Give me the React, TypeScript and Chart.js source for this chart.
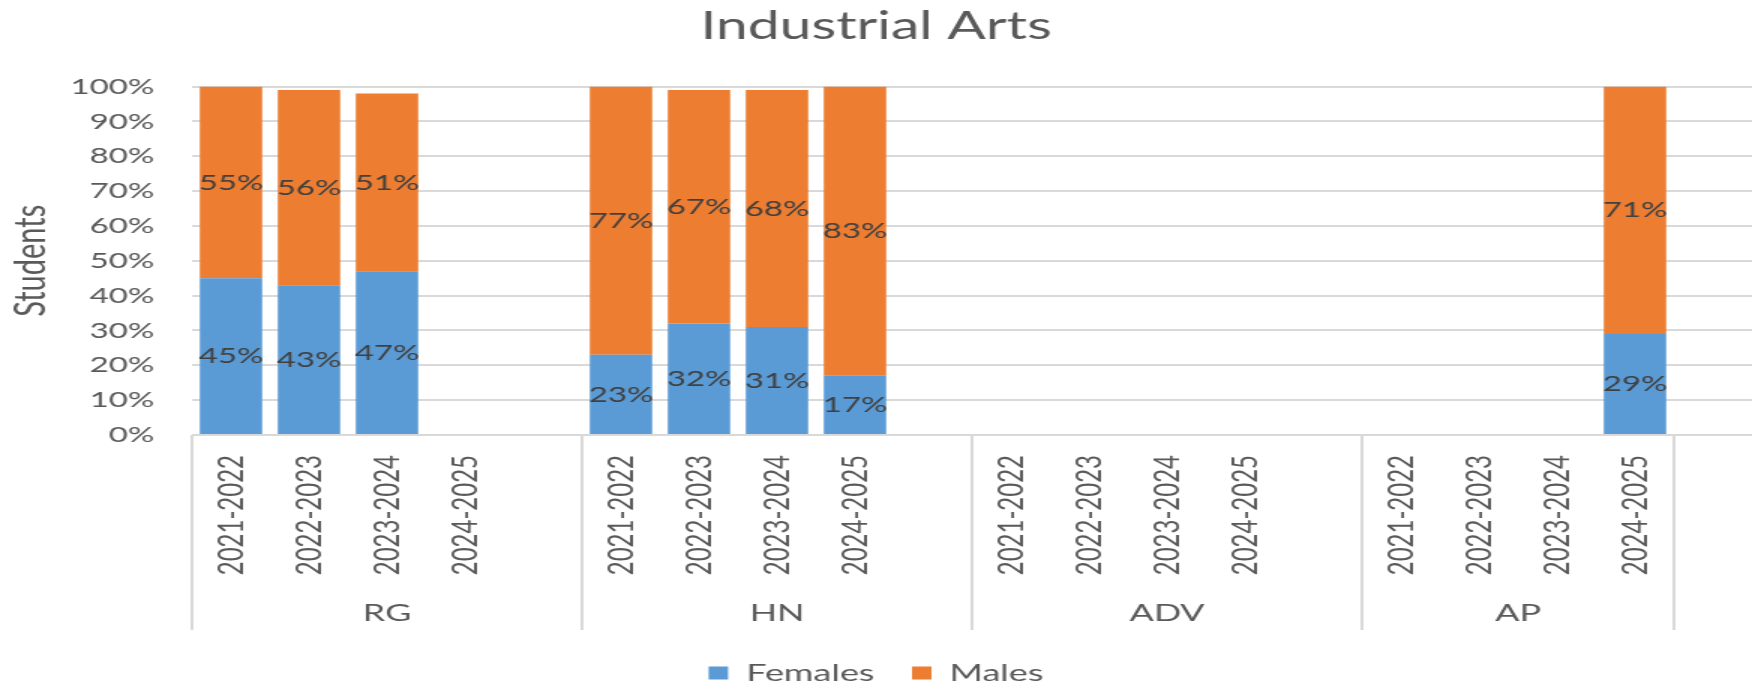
import React, { useEffect, useRef } from "react";
import { Chart, registerables } from "chart.js";

Chart.register(...registerables);

// School years shown inside each programme group
const years = ["2021-2022", "2022-2023", "2023-2024", "2024-2025"];

// Programme groups along the bottom axis and how many category slots each spans
const groupNames = ["RG", "HN", "ADV", "AP"];
const groupSpans = [5, 5, 5, 4];

// Share of students (percent) per programme and year
const rgFemales = [45, 43, 47, null];
const rgMales = [55, 56, 51, null];
const hnFemales = [23, 32, 31, 17];
const hnMales = [77, 67, 68, 83];
const advFemales = [null, null, null, null];
const advMales = [null, null, null, null];
const apFemales = [null, null, null, 29];
const apMales = [null, null, null, 71];

const yTicks = [0, 10, 20, 30, 40, 50, 60, 70, 80, 90, 100];

// Each group is followed by an empty spacer slot
const categories = [...years, "", ...years, "", ...years, "", ...years, ""];
const females = [...rgFemales, null, ...hnFemales, null, ...advFemales, null, ...apFemales, null];
const males = [...rgMales, null, ...hnMales, null, ...advMales, null, ...apMales, null];

const TEXT = "#595959";
const GRID = "#d9d9d9";

// Group dividers and group names under the year labels
const groupAxis = {
  id: "groupAxis",
  afterDraw(chart: any) {
    const { ctx, chartArea, scales } = chart;
    const x = scales.x;
    const step = x.getPixelForValue(1) - x.getPixelForValue(0);
    const edge = (i: number) => x.getPixelForValue(i) - step / 2;
    const bounds = [0];
    groupSpans.forEach((s) => bounds.push(bounds[bounds.length - 1] + s));
    ctx.save();
    ctx.strokeStyle = GRID;
    ctx.lineWidth = 2;
    bounds.forEach((b) => {
      const px = edge(b);
      ctx.beginPath();
      ctx.moveTo(px, chartArea.bottom);
      ctx.lineTo(px, chartArea.bottom + 195);
      ctx.stroke();
    });
    ctx.fillStyle = TEXT;
    ctx.font = "24px Lato";
    ctx.textAlign = "center";
    ctx.textBaseline = "middle";
    groupNames.forEach((name, i) => {
      const cx = (edge(bounds[i]) + edge(bounds[i + 1])) / 2;
      ctx.fillText(name, cx, chartArea.bottom + 178);
    });
    ctx.restore();
  },
};

// Percentage label in the middle of every stacked segment
const segmentLabels = {
  id: "segmentLabels",
  afterDatasetsDraw(chart: any) {
    const { ctx } = chart;
    ctx.save();
    ctx.fillStyle = "#404040";
    ctx.font = "22px Lato";
    ctx.textAlign = "center";
    ctx.textBaseline = "middle";
    chart.data.datasets.forEach((ds: any, di: number) => {
      const meta = chart.getDatasetMeta(di);
      meta.data.forEach((bar: any, i: number) => {
        const v = ds.data[i];
        if (v == null) return;
        const { x, y, base } = bar.getProps(["x", "y", "base"], true);
        ctx.fillText(`${v}%`, x, (y + base) / 2);
      });
    });
    ctx.restore();
  },
};

export default function App() {
  const canvasRef = useRef<HTMLCanvasElement>(null);

  useEffect(() => {
    if (!canvasRef.current) return;
    Chart.defaults.font.family = "Lato";
    const chart = new Chart(canvasRef.current, {
      type: "bar",
      data: {
        labels: categories,
        datasets: [
          { label: "Females", data: females, backgroundColor: "#5b9bd5", borderWidth: 0 },
          { label: "Males", data: males, backgroundColor: "#ed7d31", borderWidth: 0 },
        ],
      },
      options: {
        responsive: true,
        maintainAspectRatio: false,
        animation: false,
        layout: { padding: { left: 0, right: 0, top: 0, bottom: -9 } },
        datasets: { bar: { categoryPercentage: 1, barPercentage: 0.8 } },
        plugins: {
          title: {
            display: true,
            text: "Industrial Arts",
            color: TEXT,
            font: { size: 38, weight: "normal" },
            padding: { top: 4, bottom: 37 },
          },
          legend: {
            position: "bottom",
            labels: {
              color: TEXT,
              font: { size: 24 },
              boxWidth: 13,
              boxHeight: 13,
              padding: 25,
            },
          },
          tooltip: { enabled: false },
        },
        scales: {
          x: {
            stacked: true,
            grid: { display: false, drawTicks: false },
            border: { display: false },
            ticks: {
              autoSkip: false,
              minRotation: 90,
              maxRotation: 90,
              padding: 20,
              color: TEXT,
              font: { size: 24 },
            },
            afterFit(scale: any) {
              scale.height = 201;
              scale.paddingLeft = 0;
              scale.paddingRight = 0;
            },
          },
          y: {
            stacked: true,
            min: 0,
            max: 100,
            afterBuildTicks(scale: any) {
              scale.ticks = yTicks.map((v) => ({ value: v }));
            },
            ticks: {
              color: TEXT,
              font: { size: 22 },
              padding: 25,
              callback: (v: any) => `${v}%`,
            },
            grid: { color: GRID, lineWidth: 2, drawTicks: false },
            border: { display: false },
            title: {
              display: true,
              text: "Students",
              color: TEXT,
              font: { size: 29 },
              padding: { top: 3, bottom: 0 },
            },
            afterFit(scale: any) {
              scale.width = 128;
            },
          },
        },
      },
      plugins: [groupAxis, segmentLabels],
    });
    return () => chart.destroy();
  }, []);

  return (
    <div
      style={{
        position: "fixed",
        left: 0,
        top: 0,
        width: 1752,
        height: 686,
        overflow: "hidden",
        background: "#ffffff",
      }}
    >
      <div style={{ width: 1168, height: 686, transform: "scaleX(1.5)", transformOrigin: "0 0" }}>
        <canvas ref={canvasRef} />
      </div>
    </div>
  );
}
